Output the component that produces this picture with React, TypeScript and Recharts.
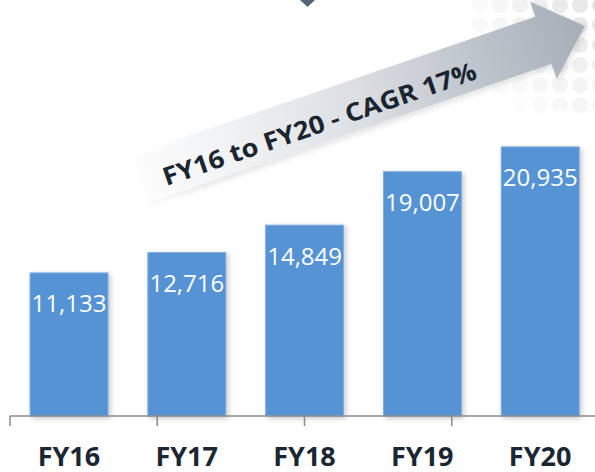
import React from 'react';
import { BarChart, Bar, XAxis, YAxis, LabelList } from 'recharts';

const categories = ['FY16', 'FY17', 'FY18', 'FY19', 'FY20'];
const revenue = [11133, 12716, 14849, 19007, 20935];
const boundaryTicks = [0, 1, 2, 3, 4, 5];
const yDomain = [0, 24000];
const arrowText = 'FY16 to FY20 - CAGR 17%';

const data = categories.map((c, i) => ({ category: c, value: revenue[i] }));

const fmt = (v: number) => v.toLocaleString('en-US');

const renderLabel = (props: any) => {
  const vb = props.viewBox || {};
  const x = props.x ?? vb.x;
  const y = props.y ?? vb.y;
  const width = props.width ?? vb.width;
  return (
    <text
      x={x + width / 2}
      y={y + 30}
      textAnchor="middle"
      dominantBaseline="central"
      fill="#ffffff"
      fontSize={24}
      fontFamily="'Open Sans', sans-serif"
    >
      {fmt(Number(props.value))}
    </text>
  );
};

const renderCatTick = (props: any) => {
  const { x, y, payload } = props;
  return (
    <text
      x={x}
      y={y + 40}
      textAnchor="middle"
      fill="#1b2633"
      fontSize={27}
      fontWeight={700}
      fontFamily="'Open Sans', sans-serif"
    >
      {payload.value}
    </text>
  );
};

const renderBar = (props: any) => {
  const { x, y, width, height } = props;
  return (
    <rect
      x={x}
      y={y}
      width={width}
      height={height}
      fill="#5593d4"
      stroke="#84afe0"
      strokeWidth={1}
      filter="url(#barShadow)"
    />
  );
};

const Decor = () => {
  const dots: React.ReactNode[] = [];
  for (let cx = 480; cx <= 600; cx += 20) {
    for (let cy = 5; cy <= 105; cy += 20) {
      const d = Math.hypot(600 - cx, cy - 0);
      const op = Math.max(0, 1 - d / 150);
      if (op > 0.05) {
        dots.push(<circle key={`${cx}-${cy}`} cx={cx} cy={cy} r={8} fill="#e4e4e4" opacity={op} />);
      }
    }
  }
  return (
    <svg width={595} height={472} style={{ position: 'absolute', left: 0, top: 0 }}>
      <defs>
        <filter id="barShadow" x="-20%" y="-10%" width="140%" height="130%">
          <feDropShadow dx="2" dy="2" stdDeviation="2.5" floodColor="#000" floodOpacity="0.22" />
        </filter>
        <filter id="arrowShadow" x="-10%" y="-50%" width="120%" height="200%">
          <feDropShadow dx="1" dy="3" stdDeviation="3" floodColor="#000" floodOpacity="0.12" />
        </filter>
        <linearGradient id="arrowGrad" gradientUnits="userSpaceOnUse" x1={-483} y1={0} x2={0} y2={0}>
          <stop offset="0" stopColor="#ffffff" stopOpacity={0} />
          <stop offset="0.15" stopColor="#f6f7f8" stopOpacity={1} />
          <stop offset="0.5" stopColor="#dcdfe3" />
          <stop offset="0.85" stopColor="#b5bcc5" />
          <stop offset="1" stopColor="#a5adb7" />
        </linearGradient>
      </defs>
      {dots}
      <polygon points="300,0 315,0 307.5,7" fill="#566576" />
      <g transform="translate(585,26) rotate(-19)">
        <path
          d="M-483,-25 L-44,-25 L-44,-41 L0,0 L-44,41 L-44,25 L-483,25 Z"
          fill="url(#arrowGrad)"
          filter="url(#arrowShadow)"
        />
        <text
          x={-283}
          y={15}
          textAnchor="middle"
          fill="#1b2530"
          fontSize={25}
          fontWeight={700}
          fontFamily="'Open Sans', sans-serif"
          textLength={330}
          lengthAdjust="spacingAndGlyphs"
        >
          {arrowText}
        </text>
      </g>
    </svg>
  );
};

export default function App() {
  return (
    <div
      style={{
        position: 'fixed',
        left: 0,
        top: 0,
        width: 595,
        height: 472,
        overflow: 'hidden',
        background: '#ffffff',
      }}
    >
      <Decor />
      <div style={{ position: 'absolute', left: 0, top: 0 }}>
        <BarChart
          width={600}
          height={472}
          data={data}
          margin={{ top: 107.5, right: 1, bottom: 0, left: 10 }}
          barCategoryGap="17%"
        >
          <XAxis
            xAxisId="a_grid"
            type="number"
            domain={[0, 5]}
            ticks={boundaryTicks}
            allowDataOverflow
            height={10}
            tickSize={10}
            tickLine={{ stroke: '#8c8c8c', strokeWidth: 1.5 }}
            axisLine={{ stroke: '#8c8c8c', strokeWidth: 1.5 }}
            tick={() => <g />}
          />
          <XAxis
            xAxisId="b_cat"
            dataKey="category"
            axisLine={false}
            tickLine={false}
            tickSize={0}
            tickMargin={0}
            height={46}
            interval={0}
            tick={renderCatTick}
          />
          <YAxis domain={yDomain} hide />
          <Bar xAxisId="b_cat" dataKey="value" isAnimationActive={false} shape={renderBar}>
            <LabelList dataKey="value" content={renderLabel} />
          </Bar>
        </BarChart>
      </div>
    </div>
  );
}
